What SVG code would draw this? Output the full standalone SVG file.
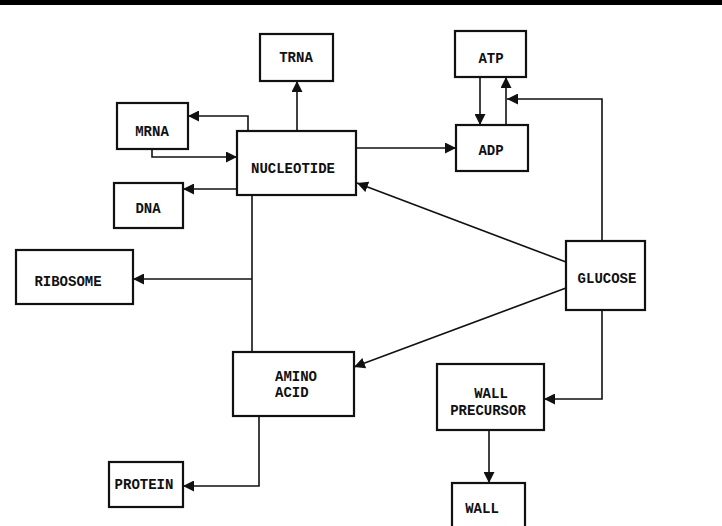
<svg xmlns="http://www.w3.org/2000/svg" width="722" height="526" viewBox="0 0 722 526">
<style>
.box{fill:#fff;stroke:#111;stroke-width:2.2}
.lbl{font-family:"Liberation Mono","DejaVu Sans Mono",monospace;font-weight:bold;font-size:14px;fill:#111;text-anchor:middle}
.lbl-l{font-family:"Liberation Mono","DejaVu Sans Mono",monospace;font-weight:bold;font-size:14px;fill:#111}
.con{fill:none;stroke:#111;stroke-width:1.6}
.arr{fill:none;stroke:#111;stroke-width:1.6;marker-end:url(#ah)}
</style>
<defs>
<marker id="ah" markerUnits="userSpaceOnUse" markerWidth="11" markerHeight="11" viewBox="0 0 10 10" refX="10" refY="5" orient="auto">
<path d="M0,0 L10,5 L0,10 z" fill="#111"/>
</marker>
</defs>
<rect x="0" y="0" width="722" height="526" fill="#fff"/>
<rect x="0" y="0" width="722" height="5" fill="#000"/>
<g id="connectors">
<path class="arr" d="M297,131 V81"/>
<path class="arr" d="M248,131 V116 H188"/>
<path class="arr" d="M152,149 V157 H237"/>
<path class="arr" d="M237,189 H183"/>
<path class="con" d="M252,195 V352"/>
<path class="arr" d="M252,279 H133"/>
<path class="arr" d="M356,148 H456"/>
<path class="arr" d="M480,77 V125"/>
<path class="arr" d="M506,125 V77"/>
<path class="arr" d="M602,241 V99 H507"/>
<path class="arr" d="M566,262 L357,183"/>
<path class="arr" d="M566,288 L354,367"/>
<path class="arr" d="M602,310 V399 H544"/>
<path class="arr" d="M489,430 V483"/>
<path class="arr" d="M259,416 V486 H183"/>
</g>
<g id="trna"><rect class="box" x="260" y="34" width="73" height="47"/><text class="lbl" x="296" y="62">TRNA</text></g>
<g id="mrna"><rect class="box" x="117" y="103" width="71" height="46"/><text class="lbl" x="152" y="136">MRNA</text></g>
<g id="nucleotide"><rect class="box" x="237" y="131" width="119" height="64"/><text class="lbl" x="293" y="173">NUCLEOTIDE</text></g>
<g id="dna"><rect class="box" x="114" y="183" width="69" height="45"/><text class="lbl" x="148" y="213">DNA</text></g>
<g id="atp"><rect class="box" x="455" y="31" width="71" height="46"/><text class="lbl" x="491" y="63">ATP</text></g>
<g id="adp"><rect class="box" x="456" y="125" width="72" height="46"/><text class="lbl" x="491" y="155">ADP</text></g>
<g id="ribosome"><rect class="box" x="16" y="250" width="117" height="54"/><text class="lbl" x="68" y="286">RIBOSOME</text></g>
<g id="glucose"><rect class="box" x="566" y="241" width="79" height="69"/><text class="lbl" x="607" y="283">GLUCOSE</text></g>
<g id="amino-acid"><rect class="box" x="233" y="352" width="121" height="64"/><text class="lbl-l" x="275" y="381">AMINO</text><text class="lbl-l" x="275" y="397">ACID</text></g>
<g id="wall-precursor"><rect class="box" x="437" y="364" width="107" height="66"/><text class="lbl" x="491" y="398">WALL</text><text class="lbl" x="488" y="415">PRECURSOR</text></g>
<g id="wall"><rect class="box" x="452" y="483" width="73" height="50"/><text class="lbl" x="482" y="513">WALL</text></g>
<g id="protein"><rect class="box" x="109" y="462" width="74" height="45"/><text class="lbl" x="144" y="489">PROTEIN</text></g>
</svg>
